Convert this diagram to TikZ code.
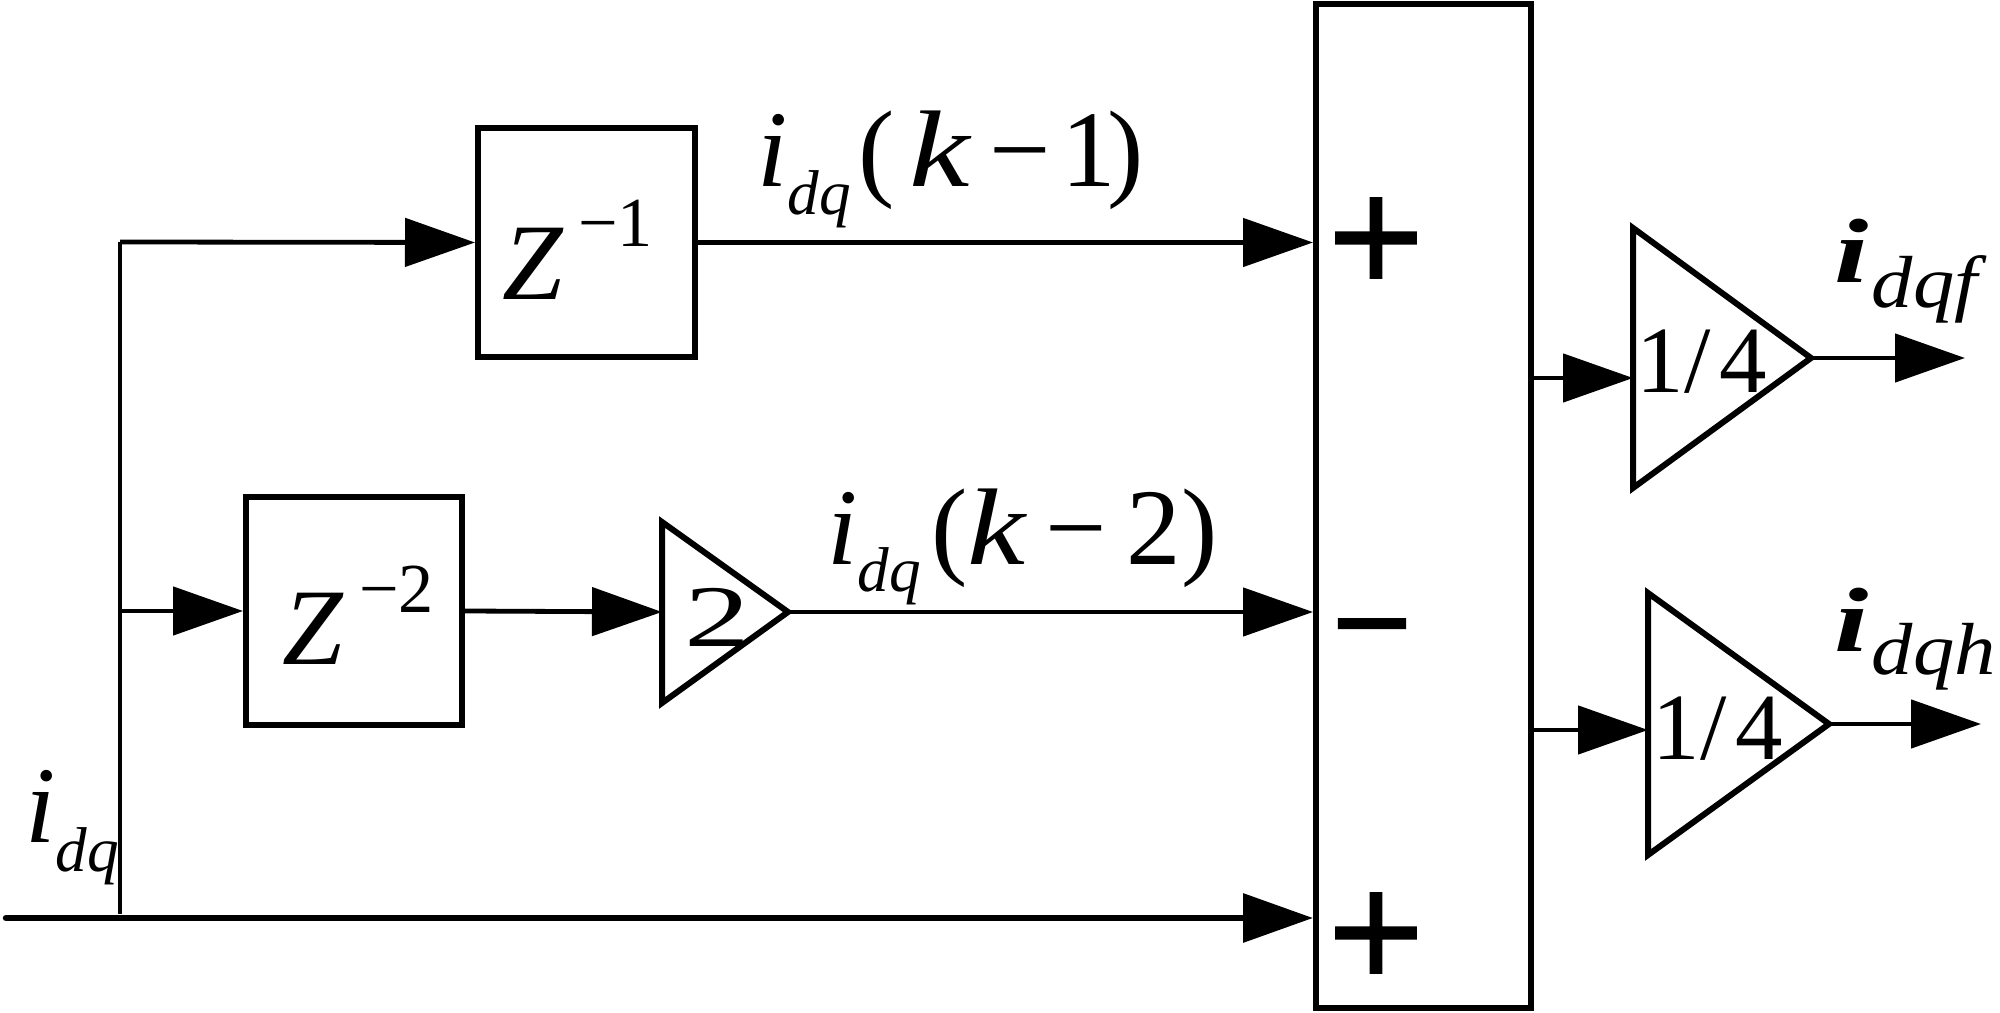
\documentclass[tikz,border=0pt]{standalone}
\usepackage{fontspec}
\setmainfont{Liberation Serif}
\newfontfamily\signfont{DejaVu Sans}[FakeBold=2]
\usetikzlibrary{arrows.meta}
\newcommand{\mainsz}{\fontsize{31pt}{31pt}\selectfont}
\newcommand{\subsz}{\fontsize{18pt}{18pt}\selectfont}
\newcommand{\supsz}{\fontsize{20pt}{20pt}\selectfont}
\begin{document}
\begin{tikzpicture}[x=0.1mm,y=-0.1mm,
  ln/.style={line width=0.48mm},
  arr/.style={ln, -{Triangle[length=7mm,width=4.8mm]}},
  blk/.style={draw, line width=0.6mm, inner sep=0pt},
  tri/.style={line width=0.6mm, line join=miter},
  plussign/.style={font=\signfont\fontsize{36pt}{36pt}\selectfont, inner sep=0pt},
  minussign/.style={font=\signfont\fontsize{30pt}{30pt}\selectfont, inner sep=0pt},
  lbl/.style={anchor=base west, inner sep=0pt}]
\useasboundingbox (0,0) rectangle (2000,1013);
\fill[white] (0,0) rectangle (2000,1013);

% blocks
\node[blk, minimum width=21.7mm, minimum height=22.9mm] (z1) at (586.5,242.5) {};
\node[blk, minimum width=21.6mm, minimum height=22.8mm] (z2) at (354,611) {};
\node[blk, minimum width=21.5mm, minimum height=100.4mm] (sum) at (1423.5,506) {};

\node[lbl] (z1t) at (502,300) {\mainsz\itshape Z\hspace{1.5mm}\raisebox{5.3mm}{\supsz\upshape −1}};
\node[lbl] (z2t) at (282,665) {\mainsz\itshape Z\hspace{1.6mm}\raisebox{5.2mm}{\supsz\upshape −2}};

% gain triangles
\coordinate (g2in) at (662,612);
\coordinate (g2out) at (788,612);
\draw[tri] (662,522) -- (g2out) -- (662,703) -- cycle;
\node[lbl] (g2t) at (684,647) {\fontsize{25pt}{25pt}\selectfont\scalebox{1.5}[1]{2}};

\coordinate (q1in) at (1633,378);
\coordinate (q1out) at (1811,358);
\draw[tri] (1633,228) -- (q1out) -- (1633,488) -- cycle;
\node[lbl] (q1t) at (1636,393) {\fontsize{27pt}{27pt}\selectfont 1/\hspace{0.9mm}4};

\coordinate (q2in) at (1648,730);
\coordinate (q2out) at (1829,724);
\draw[tri] (1648,593) -- (q2out) -- (1648,855) -- cycle;
\node[lbl] (q2t) at (1652,760) {\fontsize{27pt}{27pt}\selectfont 1/\hspace{0.9mm}4};

% signs
\node[plussign] (p1) at (1376,238) {+};
\node[minussign] (m1) at (1372,638) {−};
\node[plussign] (p2) at (1376,933) {+};

% connectors
\coordinate (in) at (6,918);
\coordinate (b0) at (120,914);
\coordinate (b1) at (120,242);
\draw[line width=0.65mm, line cap=round, -{Triangle[length=7mm,width=4.8mm]}] (in) -- (in -| sum.west);
\draw[line width=0.35mm] (b0) -- (b1);
\draw[arr] (b1) -- (z1.west);
\draw[arr] (b1 |- z2.west) -- (z2.west);
\draw[arr] (z1.east) -- (z1.east -| sum.west);
\draw[arr] (z2.east) -- (g2in);
\draw[arr] (g2out) -- (g2out -| sum.west);
\draw[arr] (q1in -| sum.east) -- (q1in);
\draw[arr] (q2in -| sum.east) -- (q2in);
\coordinate (o1) at (1965,358);
\coordinate (o2) at (1981,724);
\draw[arr] (q1out) -- (o1);
\draw[arr] (q2out) -- (o2);

% labels
\node[lbl] (lk1) at (757,187) {\mainsz\itshape i\raisebox{-2.8mm}{\subsz dq}\hspace{0.7mm}\upshape(\hspace{1.5mm}\itshape\scalebox{1.25}[1]{k}\upshape\hspace{2mm}−\hspace{1mm}1\hspace{-0.8mm})};
\node[lbl] (lk2) at (827,565) {\mainsz\itshape i\raisebox{-2.7mm}{\subsz dq}\hspace{1mm}\upshape(\itshape\scalebox{1.2}[1]{k}\upshape\hspace{2mm}−\hspace{2mm}2)};
\node[lbl] (lin) at (25,843) {\mainsz\itshape i\raisebox{-2.9mm}{\subsz dq}};
\node[lbl] (lf) at (1834,283) {\fontsize{26pt}{26pt}\selectfont\bfseries\itshape\scalebox{1.35}[1]{i}\mdseries\hspace{0.3mm}\raisebox{-2.5mm}{\fontsize{21pt}{21pt}\selectfont\scalebox{1.12}[1]{dqf}}};
\node[lbl] (lh) at (1834,652) {\fontsize{26pt}{26pt}\selectfont\bfseries\itshape\scalebox{1.35}[1]{i}\mdseries\hspace{0.3mm}\raisebox{-2.3mm}{\fontsize{21pt}{21pt}\selectfont\scalebox{1.12}[1]{dqh}}};
\end{tikzpicture}
\end{document}
